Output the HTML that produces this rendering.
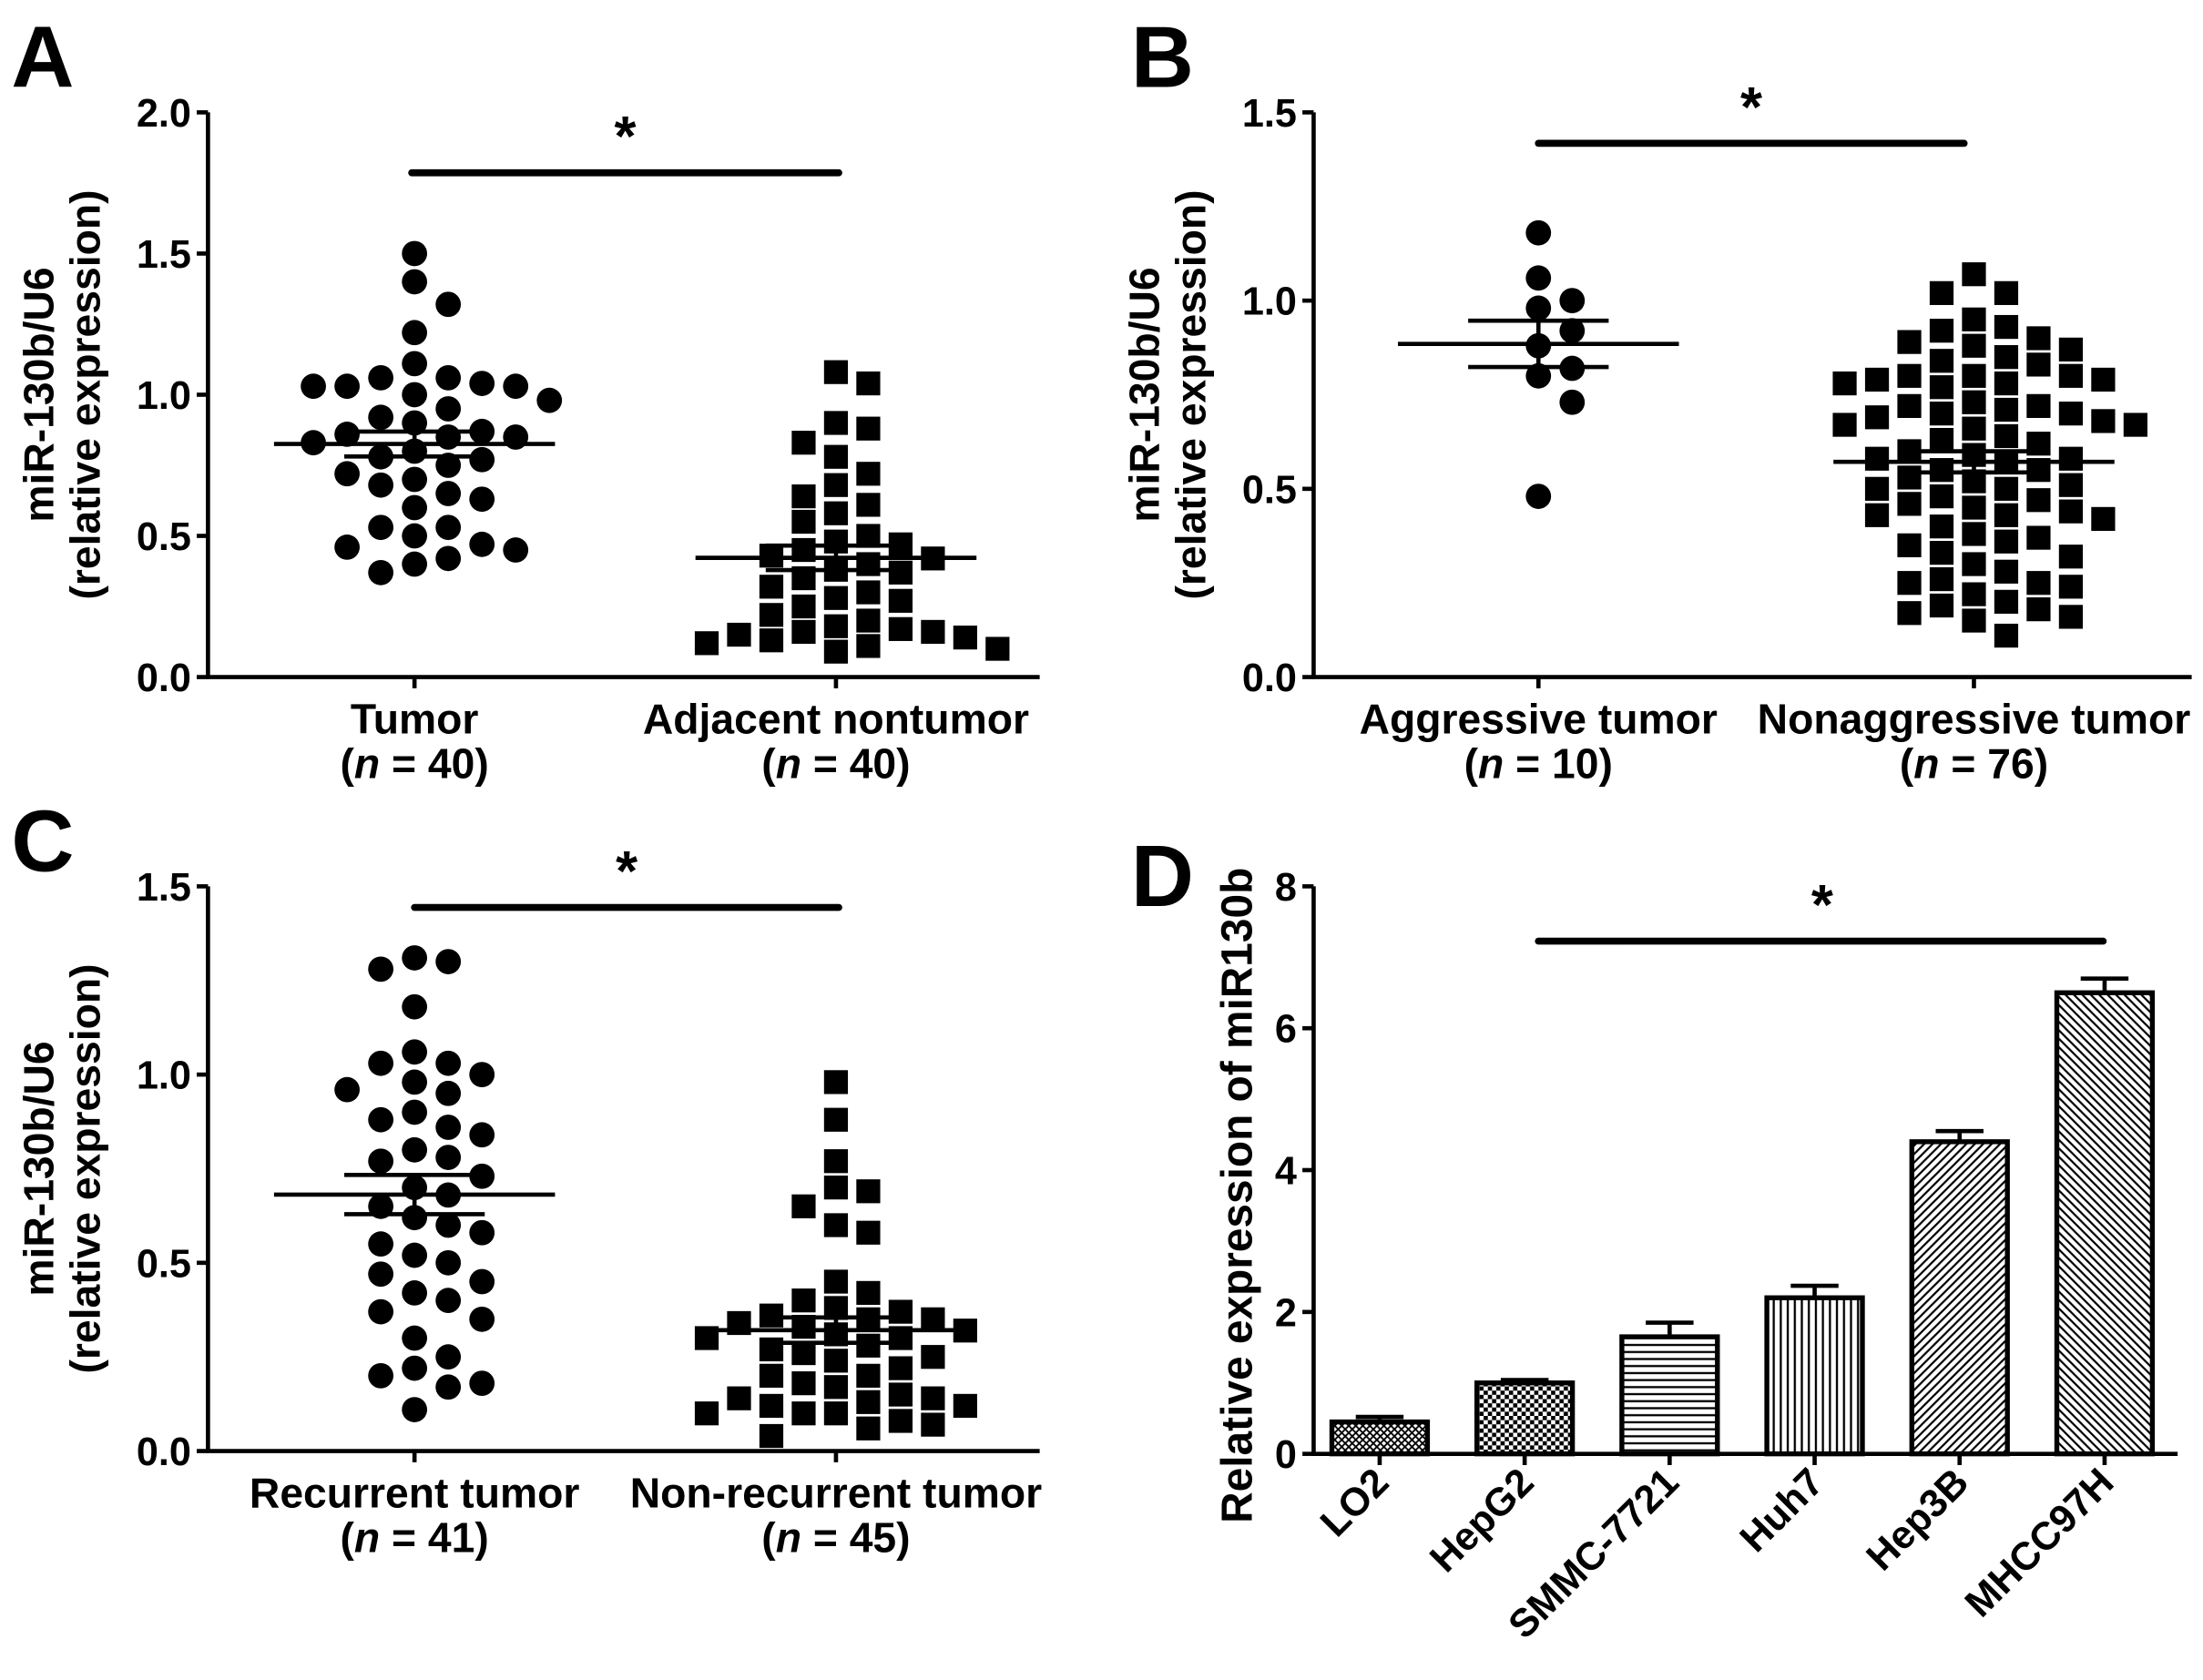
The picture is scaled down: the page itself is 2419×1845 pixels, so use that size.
<!DOCTYPE html>
<html><head><meta charset="utf-8"><style>
html,body{margin:0;padding:0;background:#fff;}
svg{display:block;}
text{font-family:"Liberation Sans",Arial,sans-serif;font-weight:bold;fill:#000;}
</style></head><body>
<svg id="fig" width="2419" height="1845" viewBox="0 0 1568 1196" xmlns="http://www.w3.org/2000/svg">
<defs>
<pattern id="pLO2" width="5" height="5" patternUnits="userSpaceOnUse"><rect width="5" height="5" fill="#fff"/><path d="M0,0L5,5M5,0L0,5" stroke="#000" stroke-width="1.2"/></pattern>
<pattern id="pHep" width="6" height="6" patternUnits="userSpaceOnUse"><rect width="6" height="6" fill="#fff"/><rect width="3" height="3" fill="#000"/><rect x="3" y="3" width="3" height="3" fill="#000"/></pattern>
<pattern id="pSM" width="6" height="5" patternUnits="userSpaceOnUse"><rect width="6" height="5" fill="#fff"/><path d="M0,2.5H6" stroke="#000" stroke-width="1.5"/></pattern>
<pattern id="pHuh" width="5" height="6" patternUnits="userSpaceOnUse"><rect width="5" height="6" fill="#fff"/><path d="M2.5,0V6" stroke="#000" stroke-width="1.5"/></pattern>
<pattern id="pH3" width="6" height="6" patternUnits="userSpaceOnUse"><rect width="6" height="6" fill="#fff"/><path d="M0,6L6,0M-1,1L1,-1M5,7L7,5" stroke="#000" stroke-width="1.4"/></pattern>
<pattern id="pMH" width="6" height="6" patternUnits="userSpaceOnUse"><rect width="6" height="6" fill="#fff"/><path d="M0,0L6,6M-1,5L1,7M5,-1L7,1" stroke="#000" stroke-width="1.4"/></pattern>
</defs>
</svg>
<script>
// ---- Data ----
const aTumor=[1.5,1.4,1.32,1.22,1.11,1.06,1.06,1.04,1.03,1.03,1.03,1.0,0.98,0.95,0.92,0.9,0.87,0.86,0.85,0.85,0.83,0.8,0.78,0.77,0.75,0.72,0.7,0.68,0.65,0.63,0.6,0.53,0.53,0.5,0.47,0.46,0.45,0.42,0.4,0.37];
const aAdj=[1.08,1.04,0.9,0.88,0.83,0.78,0.72,0.68,0.64,0.61,0.58,0.55,0.5,0.48,0.47,0.45,0.43,0.42,0.4,0.38,0.37,0.35,0.32,0.3,0.28,0.27,0.25,0.22,0.2,0.18,0.17,0.16,0.15,0.14,0.13,0.12,0.11,0.1,0.09,0.16];
const bAgg=[1.18,1.06,1.0,0.98,0.92,0.88,0.82,0.8,0.73,0.48];
const bNon=[1.07,1.02,1.02,0.95,0.93,0.92,0.9,0.89,0.88,0.87,0.85,0.84,0.83,0.8,0.8,0.8,0.79,0.79,0.78,0.78,0.77,0.73,0.72,0.72,0.71,0.7,0.7,0.69,0.68,0.67,0.67,0.66,0.64,0.63,0.62,0.6,0.59,0.58,0.58,0.57,0.55,0.55,0.53,0.52,0.51,0.5,0.5,0.48,0.47,0.46,0.45,0.44,0.43,0.43,0.42,0.4,0.38,0.37,0.36,0.35,0.33,0.32,0.3,0.28,0.26,0.25,0.25,0.24,0.22,0.2,0.19,0.18,0.17,0.16,0.15,0.11];
const cRec=[1.31,1.3,1.28,1.18,1.06,1.03,1.03,1.0,0.98,0.96,0.95,0.9,0.88,0.86,0.84,0.8,0.78,0.77,0.73,0.7,0.68,0.65,0.62,0.6,0.58,0.55,0.52,0.5,0.47,0.45,0.42,0.4,0.37,0.35,0.3,0.25,0.22,0.2,0.18,0.17,0.11];
const cNon=[0.98,0.88,0.77,0.7,0.69,0.65,0.6,0.58,0.45,0.42,0.4,0.38,0.37,0.36,0.35,0.35,0.34,0.33,0.32,0.31,0.3,0.3,0.28,0.27,0.26,0.25,0.24,0.22,0.2,0.2,0.18,0.17,0.15,0.14,0.14,0.13,0.12,0.12,0.1,0.1,0.1,0.08,0.07,0.06,0.04];
const dCats=["LO2","HepG2","SMMC-7721","Huh7","Hep3B","MHCC97H"];
const dVals=[0.45,1.0,1.65,2.2,4.4,6.5];
const dErr=[0.07,0.04,0.2,0.17,0.15,0.2];
const ticksA=["0.0","0.5","1.0","1.5","2.0"];
const ticks15=["0.0","0.5","1.0","1.5"];
const ticksD=["0","2","4","6","8"];

const svg=document.getElementById('fig');
const NS="http://www.w3.org/2000/svg";
function el(tag,attrs,parent){const e=document.createElementNS(NS,tag);for(const k in attrs)e.setAttribute(k,attrs[k]);(parent||svg).appendChild(e);return e;}
function txt(s,x,y,size,parent,anchor,extra){const t=el('text',Object.assign({x:x,y:y,'font-size':size,'text-anchor':anchor||'middle'},extra||{}),parent);t.textContent=s;return t;}
const mean=a=>a.reduce((p,c)=>p+c,0)/a.length;
const sem=a=>{const m=mean(a);return Math.sqrt(a.reduce((p,c)=>p+(c-m)*(c-m),0)/(a.length-1))/Math.sqrt(a.length);};

function swarm(vals,cx,ys,sp,minD){
  const pts=[];const sorted=vals.slice().sort((a,b)=>b-a);
  for(const v of sorted){const y=ys(v);
    for(let k=0;k<40;k++){const off=(k%2?1:-1)*Math.ceil(k/2)*sp;const x=cx+off;
      if(pts.every(p=>Math.hypot(p.x-x,p.y-y)>=minD)){pts.push({x:x,y:y});break;}}}
  return pts;}

function scatterPanel(o){
  const g=el('g',{});
  
  
  const ys=v=>o.y0-(v/o.max)*(o.y0-o.y1);
  const ax=el('path',{d:`M${o.x0},${o.y1}V${o.y0}H${o.x2}`,stroke:'#000','stroke-width':3,fill:'none'},g);
  
  o.ticks.forEach((t,i)=>{const v=i*o.step;const y=ys(v);
    el('line',{x1:o.x0-8,x2:o.x0,y1:y,y2:y,stroke:'#000','stroke-width':3},g);
    const tl=txt(t,o.x0-12,y+10,28,g,'end');});
  const yl=el('text',{transform:`translate(${o.x0-110},${(o.y0+o.y1)/2}) rotate(-90)`,'font-size':30,'text-anchor':'middle'},g);
  
  yl.innerHTML=`<tspan x="0" dy="0">miR-130b/U6</tspan><tspan x="0" dy="33">(relative expression)</tspan>`;
  o.groups.forEach((gr,gi)=>{
    el('line',{x1:gr.cx,x2:gr.cx,y1:o.y0,y2:o.y0+8,stroke:'#000','stroke-width':3},g);
    const l1=txt(gr.label,gr.cx,o.y0+40,30,g);
    const l2=el('text',{x:gr.cx,y:o.y0+72,'font-size':30,'text-anchor':'middle'},g);
    
    l2.innerHTML=`(<tspan font-style="italic">n</tspan> = ${gr.vals.length})`;
    const pts=swarm(gr.vals,gr.cx,ys,gr.sq?23:24,gr.sq?18:19);
    pts.forEach(p=>{let m;
      if(gr.sq)m=el('rect',{x:p.x-8.5,y:p.y-8.5,width:17,height:17,fill:'#000'},g);
      else m=el('circle',{cx:p.x,cy:p.y,r:9,fill:'#000'},g);
      });
    const m=mean(gr.vals),s=sem(gr.vals);
    const ml=el('line',{x1:gr.cx-100,x2:gr.cx+100,y1:ys(m),y2:ys(m),stroke:'#000','stroke-width':3},g);
    
    [m-s,m+s].forEach(v=>el('line',{x1:gr.cx-50,x2:gr.cx+50,y1:ys(v),y2:ys(v),stroke:'#000','stroke-width':3},g));
    el('line',{x1:gr.cx,x2:gr.cx,y1:ys(m-s),y2:ys(m+s),stroke:'#000','stroke-width':3},g);
  });
  const sb=el('line',{x1:o.sig[0],x2:o.sig[1],y1:o.sig[2],y2:o.sig[2],stroke:'#000','stroke-width':5,'stroke-linecap':'round'},g);
  
  const st=txt('*',(o.sig[0]+o.sig[1])/2,o.sig[2]-12,40,g);
  const pl=txt(o.letter,o.lx,o.ly,62,g,'start');
}
scatterPanel({name:'panel-a',letter:'A',lx:8,ly:62,x0:148,x2:740,y0:482,y1:80,max:2.0,step:0.5,ticks:ticksA,
  groups:[{cx:295,vals:aTumor,label:'Tumor'},{cx:595,vals:aAdj,label:'Adjacent nontumor',sq:true}],sig:[293,597,123]});
scatterPanel({name:'panel-b',letter:'B',lx:805,ly:62,x0:935,x2:1560,y0:482,y1:80,max:1.5,step:0.5,ticks:ticks15,
  groups:[{cx:1095,vals:bAgg,label:'Aggressive tumor'},{cx:1405,vals:bNon,label:'Nonaggressive tumor',sq:true}],sig:[1095,1398,102]});
scatterPanel({name:'panel-c',letter:'C',lx:8,ly:620,x0:148,x2:740,y0:1033,y1:631,max:1.5,step:0.5,ticks:ticks15,
  groups:[{cx:295,vals:cRec,label:'Recurrent tumor'},{cx:595,vals:cNon,label:'Non-recurrent tumor',sq:true}],sig:[295,597,646]});

// Panel D
(function(){
  const g=el('g',{});
  
  
  const x0=935,x2=1550,y0=1035,y1=631,max=8;
  const ys=v=>y0-(v/max)*(y0-y1);
  const xc=i=>982+i*103.2;
  const pats=['pLO2','pHep','pSM','pHuh','pH3','pMH'];
  const ax=el('path',{d:`M${x0},${y1}V${y0}H${x2}`,stroke:'#000','stroke-width':3,fill:'none'},g);
  
  ticksD.forEach((t,i)=>{const y=ys(i*2);
    el('line',{x1:x0-8,x2:x0,y1:y,y2:y,stroke:'#000','stroke-width':3},g);
    const tl=txt(t,x0-12,y+10,28,g,'end');});
  const yl=el('text',{transform:`translate(${x0-44},${(y0+y1)/2+18}) rotate(-90)`,'font-size':31,'text-anchor':'middle'},g);
  yl.textContent='Relative expression of miR130b';
  
  dCats.forEach((c,i)=>{const x=xc(i);const w=68;
    el('line',{x1:x,x2:x,y1:ys(dVals[i]),y2:ys(dVals[i]+dErr[i]),stroke:'#000','stroke-width':3},g);
    el('line',{x1:x-17,x2:x+17,y1:ys(dVals[i]+dErr[i]),y2:ys(dVals[i]+dErr[i]),stroke:'#000','stroke-width':3},g);
    const b=el('rect',{x:x-w/2,y:ys(dVals[i]),width:w,height:y0-ys(dVals[i]),fill:`url(#${pats[i]})`,stroke:'#000','stroke-width':3.5},g);
    
    el('line',{x1:x,x2:x,y1:y0,y2:y0+8,stroke:'#000','stroke-width':3},g);
    const t=el('text',{transform:`translate(${x+8},${y0+22}) rotate(-45)`,'font-size':28,'text-anchor':'end'},g);
    t.textContent=c;
  });
  const sb=el('line',{x1:1095,x2:1497,y1:670,y2:670,stroke:'#000','stroke-width':5,'stroke-linecap':'round'},g);
  
  const st=txt('*',1297,658,40,g);
  const pl=txt('D',805,645,62,g,'start');
})();
</script>
</body></html>
